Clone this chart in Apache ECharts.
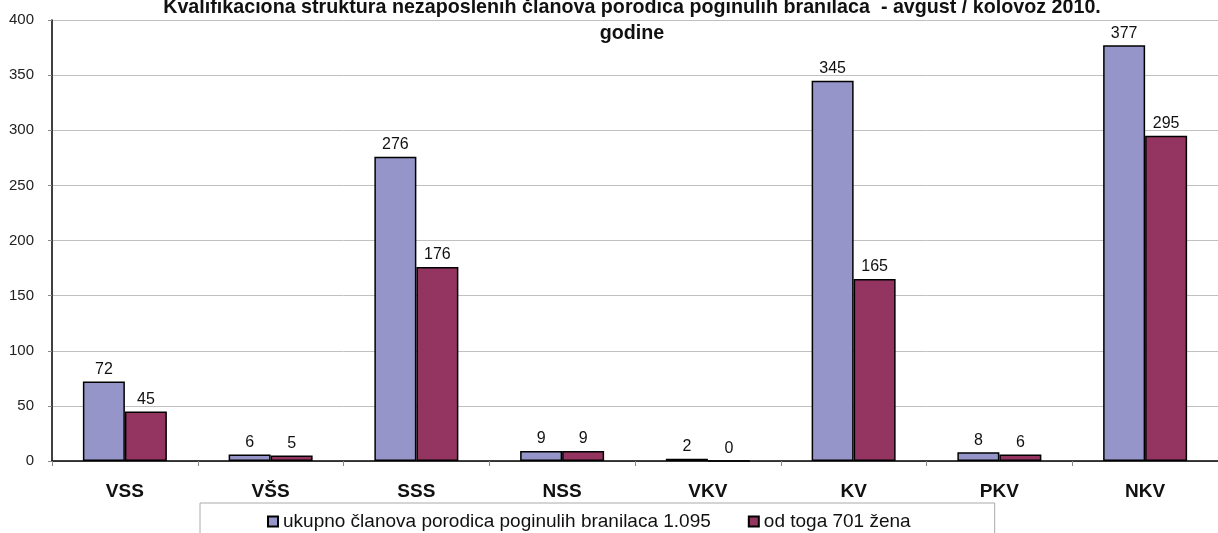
<!DOCTYPE html>
<html>
<head>
<meta charset="utf-8">
<script src="https://cdn.jsdelivr.net/npm/echarts@6/dist/echarts.min.js"></script>
<style>
  html, body { margin: 0; padding: 0; background: #fff; }
  #chartBox { width: 1218px; height: 533px; }
</style>
</head>
<body>
<div id="chartBox"></div>
<script>
  // podaci sa grafikona
  const categories = ['VSS', 'VŠS', 'SSS', 'NSS', 'VKV', 'KV', 'PKV', 'NKV']
  const ukupno = [72, 6, 276, 9, 2, 345, 8, 377]
  const zene = [45, 5, 176, 9, 0, 165, 6, 295]
  const seriesNames = ['ukupno članova porodica poginulih branilaca 1.095', 'od toga 701 žena']
  const yTicks = [0, 50, 100, 150, 200, 250, 300, 350, 400]

  const font = '"Liberation Sans", Arial, sans-serif'
  const chart = echarts.init(document.getElementById('chartBox'))

  const labelStyle = {
    show: true,
    position: 'top',
    distance: 4,
    fontFamily: font,
    fontSize: 16,
    color: '#111'
  }

  let option = {
    backgroundColor: '#fff',
    animation: false,
    graphic: [
      {
        type: 'text',
        x: 632,
        y: -5,
        style: {
          text: 'Kvalifikaciona struktura nezaposlenih članova porodica poginulih branilaca  - avgust / kolovoz 2010.\ngodine',
          align: 'center',
          verticalAlign: 'top',
          lineHeight: 26,
          font: 'bold 19.7px ' + font,
          fill: '#111'
        }
      }
    ],
    legend: {
      data: seriesNames,
      left: 200,
      top: 503,
      padding: [9, 84, 30, 67],
      itemGap: 37,
      itemWidth: 10,
      itemHeight: 10,
      icon: 'rect',
      borderColor: '#aaa',
      borderWidth: 1,
      textStyle: { fontFamily: font, fontSize: 19, color: '#111' }
    },
    grid: {
      left: 52,
      right: 0,
      top: 20,
      bottom: 72,
      containLabel: false
    },
    xAxis: {
      type: 'category',
      data: categories,
      axisLine: { lineStyle: { color: '#000', width: 1.5 } },
      axisTick: { show: true, length: 5, lineStyle: { color: '#888' } },
      axisLabel: {
        margin: 21,
        fontFamily: font,
        fontSize: 19,
        fontWeight: 'bold',
        color: '#111'
      }
    },
    yAxis: {
      type: 'value',
      min: yTicks[0],
      max: yTicks[yTicks.length - 1],
      interval: 50,
      axisLine: { show: true, lineStyle: { color: '#000', width: 1.5 } },
      axisTick: { show: true, length: 4, lineStyle: { color: '#888' } },
      axisLabel: {
        margin: 18,
        fontFamily: font,
        fontSize: 15,
        color: '#222'
      },
      splitLine: { lineStyle: { color: '#c0c0c0', width: 1 } }
    },
    series: [
      {
        name: seriesNames[0],
        type: 'bar',
        data: ukupno,
        barWidth: 42,
        barGap: 0,
        itemStyle: { color: '#9595c9', borderColor: '#000', borderWidth: 1.5 },
        label: labelStyle
      },
      {
        name: seriesNames[1],
        type: 'bar',
        data: zene,
        barWidth: 42,
        itemStyle: { color: '#943461', borderColor: '#000', borderWidth: 1.5 },
        label: labelStyle
      }
    ]
  }
  option && chart.setOption(option)
</script>
</body>
</html>
